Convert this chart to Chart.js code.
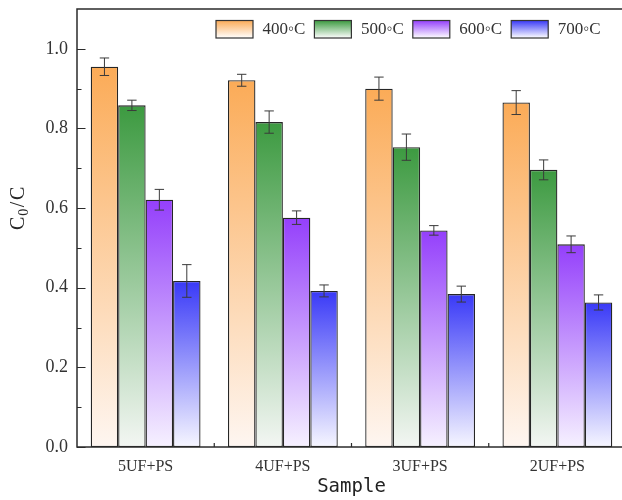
<!DOCTYPE html>
<html><head><meta charset="utf-8">
<script src="https://cdn.jsdelivr.net/npm/chart.js@4"></script>
<style>
html,body{margin:0;padding:0;overflow:hidden;background:#fff;width:622px;height:500px}
#wrap{width:640px;height:500px;position:relative}
</style></head>
<body><div id="wrap"><canvas id="c"></canvas></div>
<script>
const categories = ['5UF+PS', '4UF+PS', '3UF+PS', '2UF+PS'];
const seriesNames = ['400\u25E6C', '500\u25E6C', '600\u25E6C', '700\u25E6C'];
const values400 = [0.955, 0.921, 0.900, 0.865];
const values500 = [0.858, 0.816, 0.753, 0.696];
const values600 = [0.621, 0.576, 0.544, 0.509];
const values700 = [0.417, 0.392, 0.384, 0.363];
const errors400 = [0.022, 0.015, 0.029, 0.030];
const errors500 = [0.013, 0.028, 0.033, 0.025];
const errors600 = [0.026, 0.017, 0.012, 0.021];
const errors700 = [0.041, 0.015, 0.020, 0.019];
const yTicks = [0.0, 0.2, 0.4, 0.6, 0.8, 1.0];
const yMinorTicks = [0.1, 0.3, 0.5, 0.7, 0.9];
const topColors = ['#fbab57', '#3c9a40', '#943ffb', '#3939f7'];
const bottomColors = ['#fef6f1', '#f3f6f3', '#f6f1ff', '#f6f6ff'];

const seriesValues = [values400, values500, values600, values700];
const seriesErrors = [errors400, errors500, errors600, errors700];

function barGradient(i) {
  return (ctx) => {
    const chart = ctx.chart;
    if (ctx.type !== 'data' || !chart.chartArea || !chart.scales.y) return topColors[i];
    const ys = chart.scales.y;
    const y0 = ys.getPixelForValue(ctx.raw);
    const y1 = ys.getPixelForValue(0);
    const g = chart.ctx.createLinearGradient(0, y0, 0, y1);
    g.addColorStop(0, topColors[i]);
    g.addColorStop(1, bottomColors[i]);
    return g;
  };
}

const datasets = seriesValues.map((vals, i) => ({
  label: seriesNames[i],
  data: vals,
  errors: seriesErrors[i],
  backgroundColor: barGradient(i),
  borderColor: '#262626',
  borderWidth: 1.3,
  borderSkipped: false,
  categoryPercentage: 0.8,
  barPercentage: 1.0
}));

const errorBarPlugin = {
  id: 'errorBars',
  afterDatasetsDraw(chart) {
    const c = chart.ctx, ys = chart.scales.y;
    c.save();
    c.strokeStyle = '#3a3a3a';
    c.lineWidth = 1;
    chart.data.datasets.forEach((ds, i) => {
      const meta = chart.getDatasetMeta(i);
      meta.data.forEach((bar, j) => {
        const v = ds.data[j], e = ds.errors[j];
        const x = bar.x;
        const yt = ys.getPixelForValue(v + e), yb = ys.getPixelForValue(v - e);
        const cap = 4.7;
        c.beginPath();
        c.moveTo(x, yt); c.lineTo(x, yb);
        c.moveTo(x - cap, yt); c.lineTo(x + cap, yt);
        c.moveTo(x - cap, yb); c.lineTo(x + cap, yb);
        c.stroke();
      });
    });
    c.restore();
  }
};

const framePlugin = {
  id: 'frame',
  afterDraw(chart) {
    const c = chart.ctx, a = chart.chartArea, ys = chart.scales.y, xs = chart.scales.x;
    c.save();
    c.strokeStyle = '#2b2b2b';
    c.lineWidth = 1.5;
    c.strokeRect(a.left, a.top, a.right - a.left, a.bottom - a.top);
    c.lineWidth = 1.2;
    c.beginPath();
    yTicks.forEach(v => { const y = Math.round(ys.getPixelForValue(v)) + 0.5; c.moveTo(a.left, y); c.lineTo(a.left + 8.5, y); });
    yMinorTicks.forEach(v => { const y = Math.round(ys.getPixelForValue(v)) + 0.5; c.moveTo(a.left, y); c.lineTo(a.left + 4.5, y); });
    for (let k = 1; k < categories.length; k++) {
      const x = (xs.getPixelForValue(k - 1) + xs.getPixelForValue(k)) / 2;
      c.moveTo(x, a.bottom); c.lineTo(x, a.bottom - 4);
    }
    c.stroke();
    c.restore();
  }
};

const yTitlePlugin = {
  id: 'yTitle',
  afterDraw(chart) {
    const c = chart.ctx;
    c.save();
    c.fillStyle = '#262626';
    c.translate(24, 230);
    c.rotate(-Math.PI / 2);
    c.textBaseline = 'alphabetic';
    c.textAlign = 'left';
    const big = '20px "Liberation Serif"', small = '14px "Liberation Serif"';
    let x = 0;
    c.font = big; c.fillText('C', x, 0); x += c.measureText('C').width + 1;
    c.font = small; c.fillText('0', x, 4); x += c.measureText('0').width + 1.5;
    c.font = big; c.fillText('/', x, 0); x += c.measureText('/').width + 1.5;
    c.fillText('C', x, 0);
    c.restore();
  }
};

const legendPlugin = {
  id: 'customLegend',
  afterDraw(chart) {
    const c = chart.ctx;
    const bw = 37, bh = 17.5, step = 98.4, x0 = 216, y0 = 20.5;
    c.save();
    chart.data.datasets.forEach((ds, i) => {
      const bx = x0 + i * step;
      const g = c.createLinearGradient(0, y0, 0, y0 + bh);
      g.addColorStop(0, topColors[i]);
      g.addColorStop(1, '#ffffff');
      c.fillStyle = g;
      c.fillRect(bx, y0, bw, bh);
      c.strokeStyle = '#333';
      c.lineWidth = 1.2;
      c.strokeRect(bx, y0, bw, bh);
      c.fillStyle = '#333';
      c.font = '17px "Liberation Serif", "DejaVu Sans"';
      c.textBaseline = 'middle';
      c.textAlign = 'left';
      c.fillText(ds.label, bx + bw + 9.5, y0 + bh / 2 + 0.5);
    });
    c.restore();
  }
};

new Chart(document.getElementById('c'), {
  type: 'bar',
  data: { labels: categories, datasets },
  options: {
    responsive: true,
    maintainAspectRatio: false,
    animation: false,
    devicePixelRatio: 1,
    layout: { padding: { top: 9, right: 14, left: 0, bottom: 0 } },
    plugins: { legend: { display: false }, tooltip: { enabled: false } },
    scales: {
      x: {
        offset: true,
        grid: { display: false, drawTicks: false, tickLength: 0 },
        border: { display: false },
        ticks: { color: '#333', padding: 10, font: { family: 'Liberation Serif', size: 16 } },
        title: { display: true, text: 'Sample', color: '#222', font: { family: 'DejaVu Sans Mono', size: 19 }, padding: { top: 0, bottom: 2 } },
        afterFit(s) { s.height = 53; s.paddingLeft = 0; s.paddingRight = 0; }
      },
      y: {
        min: 0, max: 1.1,
        grid: { display: false, drawTicks: false, tickLength: 0 },
        border: { display: false },
        afterBuildTicks(s) { s.ticks = yTicks.map(v => ({ value: v })); },
        ticks: { color: '#333', padding: 9, font: { family: 'Liberation Serif', size: 18 }, callback: v => Number(v).toFixed(1) },
        afterFit(s) { s.width = 77; s.paddingTop = 0; s.paddingBottom = 0; }
      }
    }
  },
  plugins: [errorBarPlugin, framePlugin, yTitlePlugin, legendPlugin]
});
</script>
</body></html>
